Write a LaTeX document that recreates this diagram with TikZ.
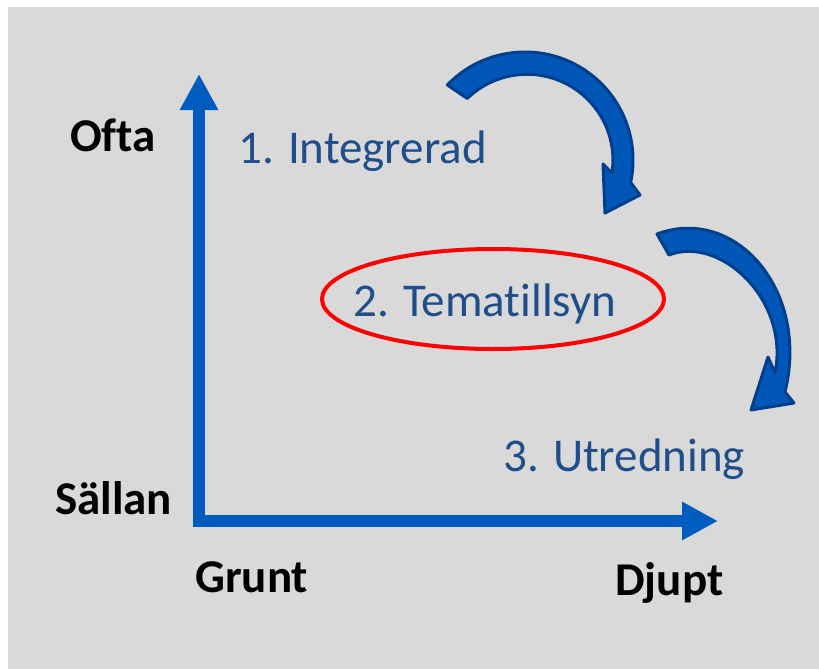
\documentclass[tikz,border=0pt]{standalone}
\usepackage{fontspec}
\setmainfont{Carlito}[Ligatures=NoCommon]
\usetikzlibrary{arrows.meta}
\definecolor{bg}{HTML}{D9D9D9}
\definecolor{axisblue}{HTML}{005CBF}
\definecolor{txtblue}{HTML}{1F4E8A}
\definecolor{arrfill}{HTML}{0057B7}
\definecolor{arrline}{HTML}{003F8C}
\tikzset{
  lab/.style={font=\fontsize{47}{56}\selectfont\bfseries, text=black, anchor=base west, inner sep=0pt},
  item/.style={font=\fontsize{47}{56}\selectfont, text=txtblue, anchor=base west, inner sep=0pt},
  axisline/.style={line width=12pt, draw=axisblue, line join=miter,
    {Triangle[length=36pt,width=36pt]}-{Triangle[length=36pt,width=36pt]}},
  curvearrow/.style={fill=arrfill, draw=arrline, line width=3pt, line join=round},
}
\begin{document}
\begin{tikzpicture}[x=1pt,y=1pt]
\useasboundingbox (0,0) rectangle (819,-669);
\fill[bg] (8,-7) rectangle (819,-669);
% axes
\coordinate (ytip) at (199,-74);
\coordinate (corner) at (199,-521);
\coordinate (xtip) at (718,-521);
\draw[axisline] (ytip) -- (corner) -- (xtip);
% axis labels
\node[lab] (ofta) at (70,-151) {Ofta};
\node[lab] (sallan) at (55,-514) {Sällan};
\node[lab] (grunt) at (195,-592) {Grunt};
\node[lab] (djupt) at (615,-595) {Djupt};
% items
\node[item] (integ) at (238,-163) {1. Integrerad};
\node[item] (tema) at (353,-316) {2. Tematillsyn};
\node[item] (utred) at (503,-471) {3. Utredning};
\draw[red, line width=4pt] (493,-299) ellipse[x radius=171pt, y radius=50pt];
% curved arrow 1
\begin{scope}[shift={(525,-160)}]
\path[curvearrow] (136:108pt) arc[start angle=136, end angle=-12, radius=108pt]
  -- (640-525,-195+160) -- (605-525,-213+160) -- (603-525,-164+160)
  -- (-8.5:88pt) arc[start angle=-8.5, end angle=134, radius=86pt] -- cycle;
\end{scope}
% curved arrow 2
\path[curvearrow] (657,-234) .. controls (735,-205) and (810,-290) .. (785,-392)
  -- (794,-403) -- (751,-410) -- (768,-357) -- (775,-373)
  .. controls (790,-300) and (720,-235) .. (669,-255) -- cycle;
\end{tikzpicture}
\end{document}
